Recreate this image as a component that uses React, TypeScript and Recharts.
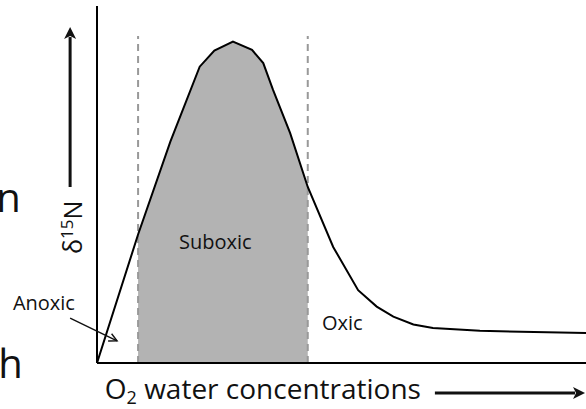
import React from 'react';
import { ComposedChart, Line, Area, XAxis, YAxis, ReferenceLine, ReferenceDot } from 'recharts';

// O2 water concentration (arbitrary units) and δ15N (arbitrary units)
const o2 = [0, 8.4, 15, 21, 24, 27.8, 31.7, 34, 36, 39.5, 43.1, 48.3, 53.4, 57.2, 60.6, 64.7, 68.7, 78.3, 100];
const d15n = [0, 36, 62, 83, 87.5, 90, 87.7, 84, 76.5, 64.4, 49.3, 32.5, 20.4, 15.8, 13.0, 10.8, 9.8, 9.0, 8.4];
const suboxicRange = [8.4, 43.1];
const dashTop = 91.6;
const xDomain = [0, 100];
const yDomain = [0, 100];

const zoneLabels = ['Anoxic', 'Suboxic', 'Oxic'];
const xTitle = ['O', '2', ' water concentrations'];
const yTitle = ['δ', '15', 'N'];
const sideLetters = ['n', 'h'];

const data = o2.map((x, i) => ({
  o2: x,
  d15n: d15n[i],
  suboxic: x >= suboxicRange[0] && x <= suboxicRange[1] ? d15n[i] : null,
}));

const FONT = '"Open Sans", sans-serif';
const INK = '#111';

const textShape = (content: React.ReactNode, opts: any) => (p: any) => (
  <text
    x={p.cx}
    y={p.cy}
    fontFamily={FONT}
    fill={INK}
    textAnchor={opts.anchor || 'start'}
    fontSize={opts.size}
    transform={opts.rotate ? `rotate(${opts.rotate} ${p.cx} ${p.cy})` : undefined}
  >
    {content}
  </text>
);

const arrowShape = (filled: boolean, width: number, head: number, half: number) => (p: any) => {
  const { x1, y1, x2, y2 } = p;
  const a = Math.atan2(y2 - y1, x2 - x1);
  const c = Math.cos(a), s = Math.sin(a);
  const hx = x2 - head * c, hy = y2 - head * s;
  const px = -s * half, py = c * half;
  if (filled) {
    return (
      <g>
        <line x1={x1} y1={y1} x2={hx + c * 2} y2={hy + s * 2} stroke={INK} strokeWidth={width} />
        <polygon points={`${x2},${y2} ${hx + px},${hy + py} ${hx + c * 3},${hy + s * 3} ${hx - px},${hy - py}`} fill={INK} />
      </g>
    );
  }
  return (
    <g>
      <line x1={x1} y1={y1} x2={x2} y2={y2} stroke={INK} strokeWidth={width} />
      <polyline points={`${hx + px},${hy + py} ${x2},${y2} ${hx - px},${hy - py}`} fill="none" stroke={INK} strokeWidth={width} />
    </g>
  );
};

export default function App() {
  return (
    <div style={{ position: 'absolute', left: 0, top: 0, width: 586, height: 409, background: '#fff' }}>
      <ComposedChart width={586} height={409} data={data} margin={{ top: 6, right: 0, bottom: 46, left: 97 }}>
        <XAxis dataKey="o2" type="number" domain={xDomain} allowDataOverflow hide />
        <YAxis type="number" domain={yDomain} allowDataOverflow hide />
        <Area
          dataKey="suboxic"
          type="linear"
          fill="#b3b3b3"
          fillOpacity={1}
          stroke="none"
          isAnimationActive={false}
          connectNulls={false}
        />
        {suboxicRange.map((x) => (
          <ReferenceLine
            key={x}
            segment={[{ x, y: 0 }, { x, y: dashTop }]}
            stroke="#999"
            strokeWidth={2}
            strokeDasharray="7 5"
            ifOverflow="visible"
          />
        ))}
        <ReferenceLine
          segment={[{ x: xDomain[0], y: yDomain[0] }, { x: xDomain[1], y: yDomain[0] }]}
          stroke="#000"
          strokeWidth={2}
          ifOverflow="visible"
        />
        <ReferenceLine
          segment={[{ x: xDomain[0], y: yDomain[0] }, { x: xDomain[0], y: yDomain[1] }]}
          stroke="#000"
          strokeWidth={2}
          ifOverflow="visible"
        />
        <Line
          dataKey="d15n"
          type="linear"
          stroke="#000"
          strokeWidth={2}
          dot={false}
          isAnimationActive={false}
        />
        <ReferenceDot x={-17.2} y={14.8} r={0} ifOverflow="visible" shape={textShape(zoneLabels[0], { size: 20 })} />
        <ReferenceDot x={24.2} y={31.9} r={0} ifOverflow="visible" shape={textShape(zoneLabels[1], { size: 20, anchor: 'middle' })} />
        <ReferenceDot x={46.0} y={9.2} r={0} ifOverflow="visible" shape={textShape(zoneLabels[2], { size: 20 })} />
        <ReferenceDot
          x={1.6}
          y={-10.2}
          r={0}
          ifOverflow="visible"
          shape={textShape(
            <>
              <tspan>{xTitle[0]}</tspan>
              <tspan fontSize={18} dy={5}>{xTitle[1]}</tspan>
              <tspan dy={-5}>{xTitle[2]}</tspan>
            </>,
            { size: 28 }
          )}
        />
        <ReferenceDot
          x={-3.1}
          y={38.0}
          r={0}
          ifOverflow="visible"
          shape={textShape(
            <>
              <tspan>{yTitle[0]}</tspan>
              <tspan fontSize={17} dy={-9}>{yTitle[1]}</tspan>
              <tspan dy={9}>{yTitle[2]}</tspan>
            </>,
            { size: 25, anchor: 'middle', rotate: -90 }
          )}
        />
        <ReferenceDot x={-15.6} y={42.3} r={0} ifOverflow="visible" shape={textShape(sideLetters[0], { size: 40, anchor: 'end' })} />
        <ReferenceDot x={-15.2} y={-4.2} r={0} ifOverflow="visible" shape={textShape(sideLetters[1], { size: 40, anchor: 'end' })} />
        <ReferenceLine
          segment={[{ x: -5.5, y: 49.3 }, { x: -5.5, y: 94.1 }]}
          ifOverflow="visible"
          shape={arrowShape(true, 3, 12, 6)}
        />
        <ReferenceLine
          segment={[{ x: 69.1, y: -8.4 }, { x: 99.8, y: -8.4 }]}
          ifOverflow="visible"
          shape={arrowShape(true, 3, 12, 6)}
        />
        <ReferenceLine
          segment={[{ x: -5.5, y: 12.6 }, { x: 4.1, y: 6.2 }]}
          ifOverflow="visible"
          shape={arrowShape(false, 1.4, 8, 4)}
        />
      </ComposedChart>
    </div>
  );
}
